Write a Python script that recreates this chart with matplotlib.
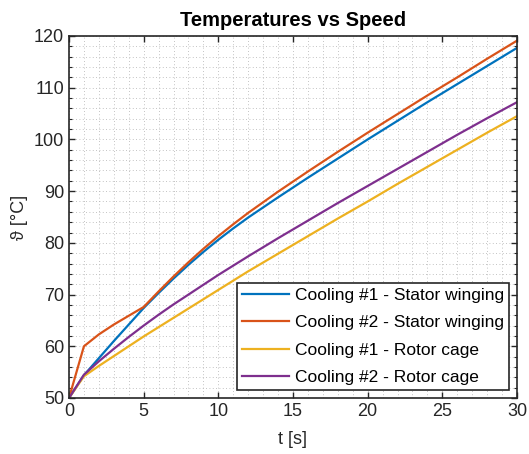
import matplotlib
matplotlib.use("Agg")
import matplotlib.pyplot as plt
from matplotlib.ticker import MultipleLocator

plt.rcParams['font.family'] = ['Liberation Sans', 'DejaVu Sans']

t = [0, 1, 2, 3, 4, 5, 6, 7, 8, 9, 10, 11, 12, 14, 16, 18, 20, 22, 24, 26, 28, 30]
cool1_stator = [50, 54.4, 57.7, 61.0, 64.2, 67.4, 70.3, 73.1, 75.75, 78.25, 80.6, 82.8, 84.9,
                88.8, 92.6, 96.3, 100.0, 103.6, 107.2, 110.7, 114.2, 117.7]
cool2_stator = [50, 60.0, 62.3, 64.2, 65.9, 67.6, 70.6, 73.5, 76.25, 78.85, 81.3, 83.6, 85.8,
                89.9, 93.8, 97.6, 101.3, 104.9, 108.5, 112.0, 115.6, 119.1]
cool1_rotor = [50, 54.2, 56.2, 58.1, 60.0, 61.9, 63.7, 65.5, 67.3, 69.1, 70.9, 72.7, 74.5,
               77.9, 81.3, 84.7, 88.0, 91.4, 94.7, 98.0, 101.3, 104.5]
cool2_rotor = [50, 54.5, 57.1, 59.5, 61.8, 64.0, 66.1, 68.1, 70.0, 71.9, 73.8, 75.6, 77.4,
               80.9, 84.3, 87.7, 91.0, 94.3, 97.6, 100.9, 104.1, 107.2]

labels = ['Cooling #1 - Stator winging', 'Cooling #2 - Stator winging',
          'Cooling #1 - Rotor cage', 'Cooling #2 - Rotor cage']
colors = ['#0072BD', '#D95319', '#EDB120', '#7E2F8E']

fig = plt.figure(figsize=(5.29, 4.54), dpi=100)
ax = fig.add_axes([69/529, 1-398/454, (517-69)/529, (398-36)/454])

for y, lab, c in zip([cool1_stator, cool2_stator, cool1_rotor, cool2_rotor], labels, colors):
    ax.plot(t, y, color=c, lw=1.6, label=lab)

ax.set_xlim(0, 30)
ax.set_ylim(50, 120)
ax.xaxis.set_major_locator(MultipleLocator(5))
ax.yaxis.set_major_locator(MultipleLocator(10))
ax.xaxis.set_minor_locator(MultipleLocator(1))
ax.yaxis.set_minor_locator(MultipleLocator(2))
ax.grid(True, which='both', linestyle=(0, (1, 3)), color='#b0b0b0', linewidth=0.6)
ax.tick_params(which='major', direction='in', top=True, right=True, length=4,
               labelsize=13, colors='#262626', width=1)
ax.tick_params(axis='x', which='minor', length=0)
ax.tick_params(axis='y', which='minor', direction='in', left=True, right=True,
               length=2.5, width=0.8, colors='#262626')
for s in ax.spines.values():
    s.set_color('#262626')
    s.set_linewidth(1.2)

ax.set_title('Temperatures vs Speed', fontsize=14.5, fontweight='bold', pad=7)
ax.set_xlabel('t [s]', fontsize=13, color='#262626', labelpad=8)
ax.set_ylabel('ϑ [°C]', fontsize=13, color='#262626', labelpad=4)

leg = ax.legend(loc='lower right', fontsize=12.5, frameon=True, fancybox=False,
                edgecolor='#262626', framealpha=1, borderaxespad=0.45,
                handlelength=2.7, handletextpad=0.35, labelspacing=0.7, borderpad=0.3)
leg.get_frame().set_linewidth(1.2)

fig.savefig('out.png', dpi=100)
